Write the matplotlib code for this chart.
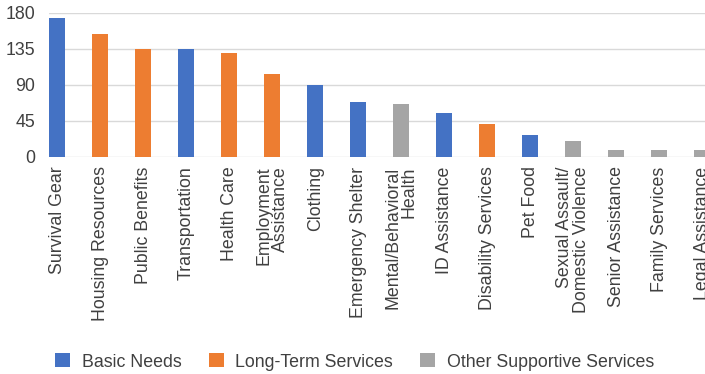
import matplotlib.pyplot as plt
from matplotlib.patches import Patch

plt.rcParams['font.family'] = ['Liberation Sans', 'DejaVu Sans']

categories = ['Survival Gear', 'Housing Resources', 'Public Benefits', 'Transportation',
              'Health Care', 'Employment\nAssistance', 'Clothing', 'Emergency Shelter',
              'Mental/Behavioral\nHealth', 'ID Assistance', 'Disability Services', 'Pet Food',
              'Sexual Assault/\nDomestic Violence', 'Senior Assistance', 'Family Services',
              'Legal Assistance']
values = [173, 153, 135, 135, 130, 103, 90, 68, 66, 54, 41, 27, 20, 9, 9, 8]
groups = ['Basic Needs', 'Long-Term Services', 'Long-Term Services', 'Basic Needs',
          'Long-Term Services', 'Long-Term Services', 'Basic Needs', 'Basic Needs',
          'Other Supportive Services', 'Basic Needs', 'Long-Term Services', 'Basic Needs',
          'Other Supportive Services', 'Other Supportive Services', 'Other Supportive Services',
          'Other Supportive Services']
group_names = ['Basic Needs', 'Long-Term Services', 'Other Supportive Services']
yticks = [0, 45, 90, 135, 180]

colors = {'Basic Needs': '#4472C4', 'Long-Term Services': '#ED7D31',
          'Other Supportive Services': '#A5A5A5'}
text_color = '#404040'
fs = 12.8

fig = plt.figure(figsize=(7.05, 3.74), dpi=100)
ax = fig.add_axes([49.3 / 705, (374 - 156.7) / 374, 1 - 49.3 / 705, 144 / 374])

x = range(len(categories))
width = 0.372
ax.bar(x, values, width=width, color=[colors[g] for g in groups], zorder=3)

ax.set_xlim(-width / 2, 15 + 3 / 43)
ax.set_ylim(0, 180)
ax.set_yticks(yticks)
ax.set_yticklabels([str(t) for t in yticks], fontsize=fs, color=text_color)
ax.grid(axis='y', color='#D9D9D9', linewidth=1.0, zorder=0)
ax.set_axisbelow(True)
for s in ax.spines.values():
    s.set_visible(False)
ax.tick_params(axis='both', length=0)
ax.tick_params(axis='y', pad=10)
ax.tick_params(axis='x', pad=7)

ax.set_xticks(list(x))
ax.set_xticklabels(categories, rotation=90, fontsize=fs, color=text_color,
                   va='top', ha='center', multialignment='right', linespacing=0.95)

handles = [Patch(facecolor=colors[g], label=g) for g in group_names]
leg = fig.legend(handles=handles, loc='center', bbox_to_anchor=(0.503, (374 - 362) / 374),
                 ncol=3, frameon=False, fontsize=fs, handlelength=0.84, handleheight=0.84,
                 handletextpad=0.67, columnspacing=1.5)
for t in leg.get_texts():
    t.set_color(text_color)

fig.savefig('out.png', dpi=100)
